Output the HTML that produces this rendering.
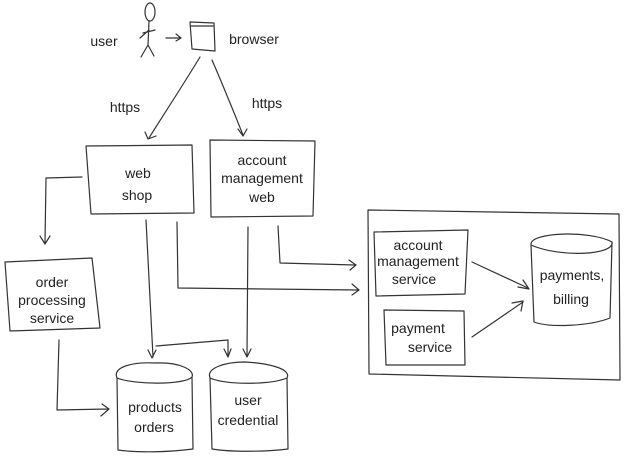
<!DOCTYPE html>
<html><head><meta charset="utf-8"><style>
html,body{margin:0;padding:0;background:#fff;}
svg{display:block}
text{font-family:"Liberation Sans",sans-serif;fill:#222;font-size:14px;text-anchor:middle}
</style></head><body>
<svg width="640" height="457" viewBox="0 0 640 457" xmlns="http://www.w3.org/2000/svg">
<g fill="none" stroke="#333" stroke-width="1.2" stroke-linecap="round" stroke-linejoin="round">
<ellipse cx="150" cy="12" rx="5" ry="9"/>
<path d="M149 21 L148 45 M143 33 L155 30 M148 45 L141 57 M148 45 L154 56 M140 38 L149 30"/>
<path d="M166 38 L180 38 M176 34 L181 38 L176 41"/>
<path d="M190 22 L214 23 L215 51 L192 49 Z M191 26 L213 26"/>
<path d="M200 57 C180 90 160 120 149 138 M145 132 L148 139 L156 136"/>
<path d="M212 60 C225 90 235 115 243 135 M238 129 L243 136 L247 129"/>
<path d="M86 146 L192 145 L194 213 L91 214 Z"/>
<path d="M210 140 L315 141 L313 216 L211 217 Z"/>
<path d="M82 177 L46 178 L45 243 M40 236 L45 244 L50 236"/>
<path d="M5 262 L92 258 L100 328 L10 331 Z"/>
<path d="M146 220 L153 357 M148 350 L152 358 L156 350"/>
<path d="M177 222 L178 288 L358 290 M352 284 L359 290 L352 295"/>
<path d="M156 346 L228 340 L228 356 M224 349 L228 357 L231 349"/>
<path d="M248 227 L247 356 M243 349 L247 357 L251 349"/>
<path d="M278 226 L280 263 L355 265 M349 260 L356 265 L350 270"/>
<path d="M59 340 L57 410 L108 409 M102 404 L109 409 L101 416"/>
<path d="M117 378 C112 366 135 362 155 363 C180 362 195 370 192 377 C185 385 135 385 117 378 Z M117 378 L118 450 C140 453 170 452 193 449 L192 377"/>
<path d="M210 378 C206 368 225 362 245 362 C265 363 292 368 287 378 C270 385 225 385 210 378 Z M210 378 L212 449 C230 452 265 452 288 449 L287 378"/>
<path d="M368 210 L619 214 L620 380 L369 374 Z"/>
<path d="M374 232 L468 230 L465 294 L376 296 Z"/>
<path d="M384 310 L464 311 L465 365 L386 365 Z"/>
<path d="M531 245 C529 232 590 230 612 242 C615 255 560 258 531 245 Z M531 245 L534 322 C550 328 590 326 610 318 L612 242"/>
<path d="M472 262 L528 288 M518 287 L529 289 L523 280"/>
<path d="M472 337 L523 302 M512 303 L523 301 L521 311"/>
</g>
<text x="104" y="46" font-size="15">user</text>
<text x="254" y="44">browser</text>
<text x="125" y="112" font-size="22">https</text>
<text x="267" y="108" font-size="22">https</text>
<text x="138" y="178" font-size="16">web</text>
<text x="137" y="200" font-size="16">shop</text>
<text x="262" y="165" font-size="15">account</text>
<text x="262" y="183" font-size="15">management</text>
<text x="262" y="202" font-size="15">web</text>
<text x="52" y="287" font-size="14">order</text>
<text x="52" y="305" font-size="14">processing</text>
<text x="52" y="323" font-size="14">service</text>
<text x="155" y="412" font-size="14">products</text>
<text x="154" y="432" font-size="14">orders</text>
<text x="248" y="405" font-size="14">user</text>
<text x="248" y="425" font-size="13">credential</text>
<text x="418" y="250" font-size="13">account</text>
<text x="418" y="266" font-size="13">management</text>
<text x="414" y="284" font-size="14">service</text>
<text x="418" y="333" font-size="14">payment</text>
<text x="430" y="352" font-size="14">service</text>
<text x="572" y="280" font-size="14">payments,</text>
<text x="571" y="304" font-size="14">billing</text>
</svg>
</body></html>
